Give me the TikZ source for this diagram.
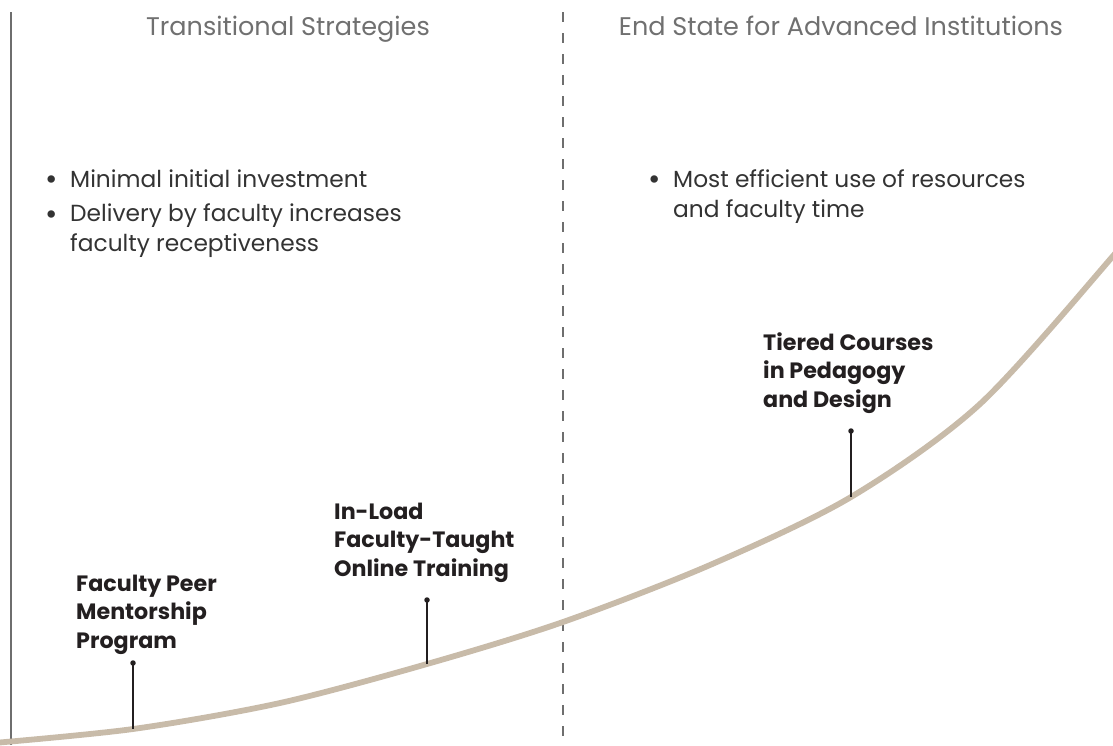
\documentclass[tikz,border=0pt]{standalone}
\usepackage{fontspec}
\setmainfont{Poppins}
\definecolor{hdrgray}{HTML}{707070}
\definecolor{bodygray}{HTML}{333333}
\definecolor{lblcol}{HTML}{231F20}
\definecolor{curvecol}{HTML}{C8BBA9}
\definecolor{axiscol}{HTML}{6E6E6E}
\begin{document}
\begin{tikzpicture}[x=1pt,y=-1pt,
  hdr/.style={font=\fontsize{25.5}{30}\selectfont, text=hdrgray, inner sep=0pt, anchor=base},
  body/.style={font=\fontsize{23.3}{29.5}\selectfont, text=bodygray, inner sep=0pt, anchor=base west, align=left},
  bulletmark/.style={font=\fontsize{30}{30}\selectfont, text=bodygray, inner sep=0pt, anchor=base},
  lbl/.style={font=\bfseries\fontsize{22.2}{28.5}\selectfont, text=lblcol, inner sep=0pt, anchor=base west, align=left},
  curveline/.style={line width=5.8pt, draw=curvecol},
  stem/.style={line width=1.6pt, draw=lblcol},
  tipdot/.style={circle, fill=lblcol, inner sep=0pt, minimum size=5.5pt},
  axisline/.style={line width=1.5pt, draw=axiscol},
  divider/.style={line width=1.3pt, draw=axiscol, dash pattern=on 10pt off 11pt}]
\useasboundingbox (0,0) rectangle (1113,745);
% axis and divider
\coordinate (axT) at (11,12);
\coordinate (axB) at (11,745);
\draw[axisline] (axT) -- (axB);
\coordinate (dvT) at (563,12);
\coordinate (dvB) at (563,745);
\draw[divider] (dvT) -- (dvB);
% curve points
\coordinate (c0) at (-12,743.5);
\coordinate (c1) at (133,729);
\coordinate (ca) at (280,703);
\coordinate (c2) at (427,664);
\coordinate (c3) at (563,622);
\coordinate (cb) at (710,565);
\coordinate (c4) at (851,497);
\coordinate (cc) at (980,404);
\coordinate (c5) at (1113,256);
\coordinate (c6) at (1130,232);
\draw[curveline] plot[smooth, tension=0.5] coordinates {(c0) (c1) (ca) (c2) (c3) (cb) (c4) (cc) (c5) (c6)};
% headers
\node[hdr] (h1) at (288,35) {Transitional Strategies};
\node[hdr] (h2) at (841,35) {End State for Advanced Institutions};
% bullets
\node[bulletmark] (bl1) at (52,189) {•};
\node[body] (t1) at (70,187) {Minimal initial investment};
\node[bulletmark] (bl2) at (52,224) {•};
\node[body] (t2) at (70,251) {Delivery by faculty increases\\faculty receptiveness};
\node[bulletmark] (bl3) at (655,189) {•};
\node[body] (t3) at (673,217) {Most efficient use of resources\\and faculty time};
% labels
\node[lbl] (l1) at (76,648) {Faculty Peer\\Mentorship\\Program};
\node[lbl] (l2) at (334,576) {In-Load\\Faculty-Taught\\Online Training};
\node[lbl] (l3) at (763,407) {Tiered Courses\\in Pedagogy\\and Design};
% stems
\node[tipdot] (d1) at (133,663) {};
\node[tipdot] (d2) at (427,600) {};
\node[tipdot] (d3) at (851,431) {};
\draw[stem] (d1.center) -- (c1);
\draw[stem] (d2.center) -- (c2);
\draw[stem] (d3.center) -- (c4);
\end{tikzpicture}
\end{document}
